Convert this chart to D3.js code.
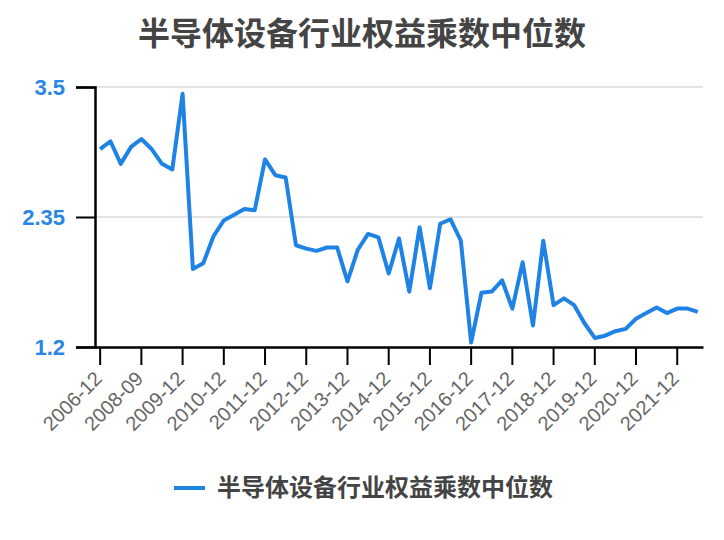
<!DOCTYPE html>
<html><head><meta charset="utf-8">
<script src="https://cdn.jsdelivr.net/npm/d3@7"></script>
<style>body{margin:0;background:#fff;}svg{display:block;}</style>
</head><body>
<svg id="c" width="724" height="540"></svg>
<script>
const title = "半导体设备行业权益乘数中位数";
const seriesName = "半导体设备行业权益乘数中位数";
const categories = ["2006-12","2007-06","2007-12","2008-06","2008-09","2008-12","2009-03","2009-06","2009-12",
"2010-03","2010-06","2010-09","2010-12","2011-03","2011-06","2011-09","2011-12",
"2012-03","2012-06","2012-09","2012-12","2013-03","2013-06","2013-09","2013-12",
"2014-03","2014-06","2014-09","2014-12","2015-03","2015-06","2015-09","2015-12",
"2016-03","2016-06","2016-09","2016-12","2017-03","2017-06","2017-09","2017-12",
"2018-03","2018-06","2018-09","2018-12","2019-03","2019-06","2019-09","2019-12",
"2020-03","2020-06","2020-09","2020-12","2021-03","2021-06","2021-09","2021-12",
"2022-03","2022-06"];
const values = [2.95,3.02,2.82,2.97,3.04,2.95,2.82,2.77,3.44,
1.89,1.94,2.18,2.32,2.37,2.42,2.41,2.86,
2.72,2.70,2.10,2.07,2.05,2.08,2.08,1.78,
2.06,2.20,2.17,1.85,2.16,1.69,2.26,1.72,
2.29,2.33,2.14,1.24,1.68,1.69,1.79,1.54,
1.95,1.39,2.14,1.57,1.63,1.57,1.41,1.28,
1.30,1.34,1.36,1.45,1.50,1.55,1.50,1.54,
1.54,1.51];
const yTicks = [1.2, 2.35, 3.5];

(function(){
const svg = d3.select("#c");
const L = 95, R = 703, T = 87, B = 347;

const x = d3.scaleBand().domain(categories).range([L, R]);
const y = d3.scaleLinear().domain([1.2, 3.5]).range([B, T]);

svg.append("text").attr("x", 362).attr("y", 45).attr("text-anchor","middle")
  .attr("font-family","'Noto Sans CJK SC', sans-serif").attr("font-weight","bold")
  .attr("font-size", 32).attr("fill","#444").text(title);

svg.append("g").selectAll("line").data(yTicks.slice(1)).join("line")
  .attr("x1", L).attr("x2", R).attr("y1", d=>y(d)).attr("y2", d=>y(d))
  .attr("stroke","#e3e3e3").attr("stroke-width",2);

const yAxis = svg.append("g").attr("transform",`translate(${L},0)`)
  .call(d3.axisLeft(y).tickValues(yTicks).tickFormat(d=>String(d)).tickSize(19).tickPadding(11));
yAxis.select(".domain").attr("stroke","#000").attr("stroke-width",2.5);
yAxis.selectAll(".tick line").attr("stroke","#000").attr("stroke-width",2);
yAxis.selectAll(".tick text").attr("fill","#2a86e4").style("font-size","22px").attr("font-weight","bold")
  .attr("font-family","'Liberation Sans', Arial, sans-serif");

const tickCats = categories.filter((d,i)=>i%4===0 && i<=56);
const xAxis = svg.append("g").attr("transform",`translate(0,${B})`)
  .call(d3.axisBottom(x).tickValues(tickCats).tickSize(18).tickSizeOuter(0));
xAxis.select(".domain").attr("stroke","#000").attr("stroke-width",2.5);
xAxis.selectAll(".tick line").attr("stroke","#000").attr("stroke-width",2);
xAxis.selectAll(".tick text").attr("fill","#666").style("font-size","20px")
  .attr("font-family","'Liberation Sans', Arial, sans-serif")
  .attr("text-anchor","end").attr("dy",0).attr("y",0)
  .attr("transform","translate(3,33) rotate(-45)");

const line = d3.line().x((d,i)=>x(categories[i]) + x.bandwidth()/2).y(d=>y(d));
svg.append("path").datum(values).attr("d", line).attr("fill","none")
  .attr("stroke","#1f83e6").attr("stroke-width",4).attr("stroke-linejoin","round");

svg.append("line").attr("x1",174).attr("x2",205).attr("y1",488).attr("y2",488)
  .attr("stroke","#1f83e6").attr("stroke-width",4);
svg.append("text").attr("x",217).attr("y",496)
  .attr("font-family","'Noto Sans CJK SC', sans-serif").attr("font-weight","bold")
  .attr("font-size",24).attr("fill","#444").text(seriesName);
})();
</script>
</body></html>
